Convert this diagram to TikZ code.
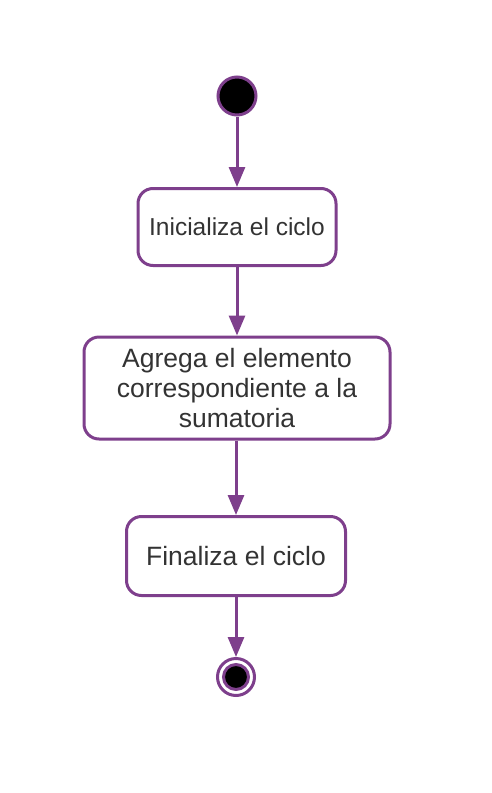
\documentclass[tikz,border=0pt]{standalone}
\usepackage{fontspec}
\setmainfont{Liberation Sans}
\usepackage{xcolor}
\usetikzlibrary{arrows.meta, positioning}
\definecolor{umlpurple}{HTML}{7E3F8C}
\definecolor{umltext}{HTML}{333333}

\begin{document}
\begin{tikzpicture}[x=1pt, y=-1pt,
    actbox/.style={draw=umlpurple, line width=3pt, rounded corners=15pt, fill=white,
        text=umltext, align=center, inner sep=0pt},
    flow/.style={draw=umlpurple, line width=3pt, -{Triangle[length=20pt, width=16pt]}}]
\useasboundingbox (0,0) rectangle (492,793);

% Start
\node[circle, draw=umlpurple, line width=3pt, fill=black, minimum size=38pt, inner sep=0pt] (start) at (237,96) {};

% Activities
\node[actbox, minimum width=198pt, minimum height=77pt, font=\fontsize{24.5}{29}\selectfont] (init) at (237,227) {Inicializa el ciclo};
\node[actbox, minimum width=306pt, minimum height=102pt, font=\fontsize{26.5}{30}\selectfont] (sum) at (237,388) {Agrega el elemento\\correspondiente a la\\sumatoria};
\node[actbox, minimum width=219pt, minimum height=79pt, font=\fontsize{26.5}{30}\selectfont] (fin) at (236,556) {Finaliza el ciclo};

% End
\node[circle, draw=umlpurple, line width=3pt, minimum size=37pt, inner sep=0pt] (end) at (236,677) {};
\node[circle, draw=umlpurple, line width=3pt, fill=black, minimum size=25pt, inner sep=0pt] (end dot) at (end.center) {};

% Flow
\draw[flow] (start) -- (init);
\draw[flow] (init) -- (sum);
\draw[flow] (sum.south -| fin) -- (fin);
\draw[flow] (fin) -- (end);
\end{tikzpicture}
\end{document}
